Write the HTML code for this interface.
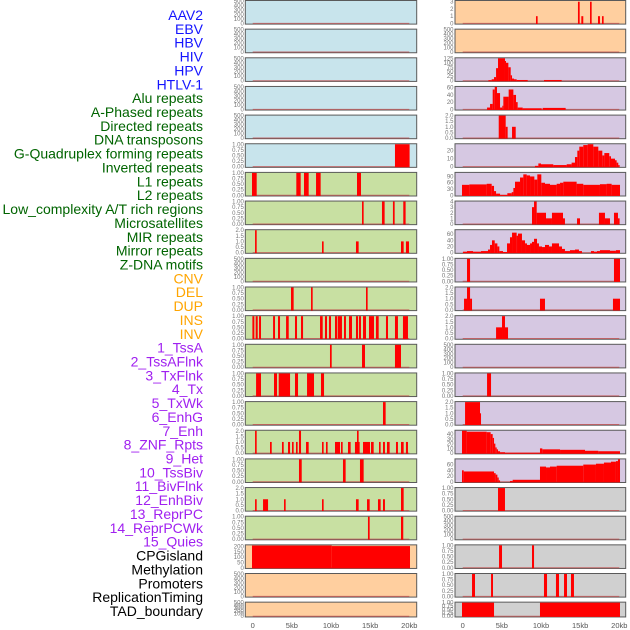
<!DOCTYPE html>
<html><head><meta charset="utf-8">
<style>
html,body{margin:0;padding:0;background:#fff;}
svg{display:block;font-family:"Liberation Sans",sans-serif;}
</style></head>
<body>
<svg id="chart" width="630" height="630" viewBox="0 0 630 630" xmlns="http://www.w3.org/2000/svg"></svg>
<script>
// ---- data ----
const trackLabels = ["AAV2","EBV","HBV","HIV","HPV","HTLV-1","Alu repeats","A-Phased repeats","Directed repeats","DNA transposons","G-Quadruplex forming repeats","Inverted repeats","L1 repeats","L2 repeats","Low_complexity A/T rich regions","Microsatellites","MIR repeats","Mirror repeats","Z-DNA motifs","CNV","DEL","DUP","INS","INV","1_TssA","2_TssAFlnk","3_TxFlnk","4_Tx","5_TxWk","6_EnhG","7_Enh","8_ZNF_Rpts","9_Het","10_TssBiv","11_BivFlnk","12_EnhBiv","13_ReprPC","14_ReprPCWk","15_Quies","CPGisland","Methylation","Promoters","ReplicationTiming","TAD_boundary"];
const labelGroups = ["v","v","v","v","v","v","r","r","r","r","r","r","r","r","r","r","r","r","r","s","s","s","s","s","c","c","c","c","c","c","c","c","c","c","c","c","c","c","c","o","o","o","o","o"];
const xTicks = [0,5,10,15,20];
const xTickLabels = ["0","5kb","10kb","15kb","20kb"];
const T500=["500","400","300","200","100","0"], T1=["1.00","0.75","0.50","0.25","0.00"], T2=["2.0","1.5","1.0","0.5","0.0"];
const leftTicks = [T500,T500,T500,T500,T500,T1,T1,T1,T2,T500,T1,T1,T1,T1,T1,T2,T1,T2,T1,["200","150","100","50","0"],T500,T500];
const rightTicks = [["3","2","1","0"],T500,["125","100","75","50","25","0"],["60","40","20","0"],T2,["20","10","0"],["90","60","30","0"],["4","3","2","1","0"],["60","40","20","0"],T1,T2,T2,T500,T1,T2,["40","30","20","10","0"],["60","40","20","0"],T1,T500,T1,T1,T1];
const leftMax = [500,500,500,500,500,1,1,1,2,500,1,1,1,1,1,2,1,2,1,212,500,500];
const rightMax = [3.1,500,125,62,2,28,107,4,73,1,2,2,500,1,2,47,78,1,500,1,1,1];
const leftSegs = [[],[],[],[],[],
[[18.17,20.04,1]],
[[-0.09,0.51,1],[5.57,6.13,1],[6.55,7.15,1],[8.09,8.68,1],[13.32,13.83,1]],
[[13.96,14.17,1],[16.51,16.85,1],[17.91,18.13,1],[19.23,19.53,1]],
[[0.30,0.51,2],[8.85,9.06,1],[13.19,13.53,1],[18.94,19.28,1],[19.57,19.96,1]],
[],
[[4.89,5.23,1],[7.45,7.66,1],[14.47,14.68,1]],
[[-0.04,0.21,1],[0.38,0.64,1],[0.81,1.06,1],[2.60,2.85,1],[3.23,3.49,1],[4.26,4.60,1],[5.40,5.66,1],[6.17,6.43,1],[8.60,8.94,1],[9.23,9.49,1],[9.74,10.0,1],[10.51,10.81,1],[10.89,11.40,1],[11.66,11.91,1],[12.30,12.68,1],[13.19,13.45,1],[13.57,13.83,1],[14.09,14.47,1],[14.85,15.49,1],[15.74,16.09,1],[17.02,17.28,1],[18.17,18.55,1],[19.19,19.83,1]],
[[9.87,10.09,1],[13.96,14.34,1],[18.17,18.94,1]],
[[0.43,1.06,1],[2.72,3.11,1],[3.32,4.77,1],[5.40,5.79,1],[6.94,7.83,1],[8.72,9.11,1]],
[[16.64,16.98,1]],
[[0.30,0.51,2],[5.91,6.17,2],[13.32,13.53,2],[2.21,2.43,1],[3.74,3.96,1],[4.51,4.77,1],[5.02,5.23,1],[5.53,5.74,1],[6.81,7.15,1],[8.85,9.06,1],[9.36,9.57,1],[10.51,11.15,1],[11.28,11.49,1],[12.17,12.51,1],[13.06,13.66,1],[14.09,14.98,1],[15.11,15.45,1],[16.13,16.34,1],[16.64,16.89,1],[17.15,17.49,1],[18.30,18.55,1],[18.94,19.28,1],[19.57,19.83,1]],
[[5.91,6.26,1],[11.53,11.87,1],[13.70,14.17,1]],
[[0.30,0.51,1],[1.32,1.96,1],[4.00,4.21,1],[8.85,9.06,1],[13.19,13.53,1],[14.60,14.94,1],[16.0,16.34,1],[16.64,16.89,1],[18.94,19.28,2]],
[[14.72,14.94,1],[18.94,19.23,1]],
[[-0.09,10.09,210],[10.09,20.09,205]],
[],[]];
const rightSegs = [
[[9.36,9.57,1],[14.72,14.94,3],[15.15,15.40,1],[16.26,16.47,3],[17.28,17.53,1],[17.79,18.0,1]],
[],
[[3.28,3.70,3],[3.70,4.0,8],[4.0,4.26,20],[4.26,4.51,70],[4.51,5.40,125],[5.40,5.53,110],[5.53,5.83,100],[5.83,6.13,75],[6.13,6.30,30],[6.30,6.55,12],[6.55,6.89,8],[6.89,8.30,4],[10.38,12.64,4]],
[[3.11,3.49,5],[3.49,3.83,15],[3.83,4.09,55],[4.09,4.38,62],[4.38,4.77,45],[4.77,5.06,5],[5.06,5.19,10],[5.19,5.40,35],[5.40,5.87,35],[5.87,6.47,55],[6.47,6.81,40],[6.81,7.02,20],[7.02,7.66,5],[7.66,10.09,3],[10.21,13.15,4]],
[[4.60,5.49,2],[5.49,5.74,1],[6.30,6.77,1]],
[[9.23,9.66,1],[9.66,10.0,4],[10.0,11.57,3],[11.57,13.28,2],[13.28,13.91,3],[13.91,14.34,5],[14.34,14.64,12],[14.64,14.89,20],[14.89,15.40,25],[15.40,15.96,27],[15.96,16.68,28],[16.68,17.32,25],[17.32,17.83,20],[17.83,18.09,14],[18.09,18.72,17],[18.72,18.94,13],[18.94,19.45,10],[19.45,19.66,8],[19.66,19.87,5],[19.87,20.04,2]],
[[-0.09,0.85,50],[0.85,3.06,52],[3.06,3.70,55],[3.70,4.0,45],[4.0,4.26,20],[4.26,4.77,8],[4.77,5.70,2],[5.70,6.26,10],[6.26,6.47,15],[6.47,6.68,35],[6.68,7.32,65],[7.32,7.74,85],[7.74,8.17,100],[8.17,8.60,95],[8.60,9.15,90],[9.15,9.53,75],[9.53,10.04,100],[10.04,10.51,60],[10.51,11.15,55],[11.15,12.0,50],[12.0,12.43,55],[12.43,12.85,60],[12.85,14.55,65],[14.55,15.40,55],[15.40,17.53,50],[17.53,18.38,53],[18.38,19.02,55],[19.02,20.09,50]],
[[8.85,9.11,3],[9.11,9.45,4],[9.45,10.64,2],[10.64,11.40,1],[11.40,12.81,2],[12.81,13.06,1],[14.60,14.98,1],[17.40,18.17,2],[18.17,18.81,1],[19.32,19.83,2],[19.83,20.04,1]],
[[0.04,0.55,3],[0.55,1.32,5],[1.32,2.34,3],[2.34,3.23,5],[3.23,3.49,10],[3.49,3.74,25],[3.74,4.09,40],[4.09,4.43,30],[4.43,4.68,20],[4.68,5.15,5],[5.15,5.66,2],[5.66,6.04,30],[6.04,6.30,50],[6.30,6.89,65],[6.89,7.06,55],[7.06,7.57,62],[7.57,7.96,40],[7.96,8.21,30],[8.21,8.60,25],[8.60,8.85,30],[8.85,9.11,35],[9.11,9.49,45],[9.49,9.74,30],[9.74,10.13,20],[10.13,10.51,18],[10.51,11.02,25],[11.02,11.40,20],[11.40,12.30,30],[12.30,12.68,20],[12.68,13.06,12],[13.06,13.70,5],[13.70,14.34,8],[14.34,14.85,10],[14.85,15.23,5],[16.38,16.77,5],[16.77,17.15,3],[17.15,17.53,5],[17.53,18.81,8],[18.81,19.57,6],[19.57,20.09,8]],
[[0.55,0.94,1],[19.32,20.09,1]],
[[0.17,0.55,1],[0.55,0.94,2],[0.94,1.19,1],[9.87,10.51,1],[19.19,20.09,1]],
[[4.26,5.02,1],[5.02,5.40,2],[5.40,5.79,1]],
[],
[[3.11,3.62,1]],
[[0.30,2.21,2],[2.21,2.34,1]],
[[-0.09,0.51,47],[0.51,3.06,45],[3.06,3.57,44],[3.57,3.83,40],[3.83,4.0,32],[4.0,4.17,20],[4.17,4.34,12],[4.34,4.51,8],[4.51,4.77,4],[4.77,5.40,2],[5.40,9.87,1],[9.87,10.17,10],[10.17,12.43,8],[12.43,15.62,7],[15.62,17.32,5],[17.32,20.09,4]],
[[-0.09,0.13,40],[0.13,4.0,36],[4.0,4.21,30],[4.21,4.43,25],[4.43,4.60,15],[4.60,4.77,5],[6.04,6.38,3],[6.38,9.87,7],[9.87,10.64,53],[10.64,11.15,50],[11.15,12.0,53],[12.0,15.40,56],[15.40,17.02,60],[17.02,18.04,63],[18.04,18.94,67],[18.94,19.57,70],[19.57,19.83,72],[19.83,20.09,78]],
[[4.51,5.40,1]],
[],
[[4.64,5.02,1],[8.85,9.11,1]],
[[1.19,1.57,1],[3.62,3.87,1],[10.38,10.77,1],[11.91,12.30,1],[12.94,13.32,1],[13.83,14.21,1]],
[[-0.09,4.0,1],[9.87,20.09,1]]];

// ---- styles ----
const BG = {b:"#c8e4ec",g:"#c8e0a2",p:"#ffcf9f",l:"#d6c8e2",y:"#d0d0d0"};
const leftBg = [];
for(let i=0;i<22;i++) leftBg.push(i<6?"b":(i<19?"g":"p"));
const rightBg = [];
for(let i=0;i<22;i++) rightBg.push(i<2?"p":(i<17?"l":"y"));
const groupColor = {v:"#1414ff",r:"#006400",s:"#ffa500",c:"#a020f0",o:"#000000"};

const NS="http://www.w3.org/2000/svg";
const svg=document.getElementById("chart");
function mk(tag,attrs,parent){const e=document.createElementNS(NS,tag);for(const k in attrs)e.setAttribute(k,attrs[k]);(parent||svg).appendChild(e);return e;}

trackLabels.forEach((t,i)=>{
  const e=mk("text",{x:203,y:(15+i*13.86+5).toFixed(1),"text-anchor":"end","font-size":"14",fill:groupColor[labelGroups[i]]});
  e.textContent=t;
  
  
});

const cols=[{x0:245.3,w:171.4,z:252.7,ticks:leftTicks,max:leftMax,segs:leftSegs,bg:leftBg,name:'left'},
            {x0:455,w:170.7,z:462.7,ticks:rightTicks,max:rightMax,segs:rightSegs,bg:rightBg,name:'right'}];
const kbScale=7.83;
cols.forEach(c=>{
  const xs=kb=>c.z+kb*kbScale;
  for(let r=0;r<22;r++){
    const top=r*28.65, h=(r===21)?15.8:24.6;
    const g=mk("g",{});
    
    
    const yTop=top+1, yBase=top+h-1.2, m=c.max[r];
    const ys=v=>yBase-(v/m)*(yBase-yTop);
    mk("rect",{x:c.x0,y:top+0.5,width:c.w,height:h-1,fill:BG[c.bg[r]],stroke:"#5a5a5a","stroke-width":1},g);
    const tk=c.ticks[r];
    tk.forEach(lbl=>{
      const v=parseFloat(lbl);
      const t=mk("text",{x:c.x0-1.5,y:(ys(v)+2).toFixed(1),"text-anchor":"end","font-size":"6",fill:"#777"},g);
      t.textContent=lbl;
      
      
    });
    mk("line",{x1:xs(0),x2:xs(20),y1:yBase,y2:yBase,stroke:"#c05050","stroke-width":1,opacity:0.8},g);
    c.segs[r].forEach(s=>{
      const y=ys(Math.min(s[2],m));
      const b=mk("rect",{x:xs(s[0]).toFixed(2),y:y.toFixed(2),width:Math.max(0.8,xs(s[1])-xs(s[0])).toFixed(2),height:(yBase-y+0.6).toFixed(2),fill:"#ff0000"},g);
      
      
    });
  }
  xTicks.forEach((v,i)=>{
    const t=mk("text",{x:xs(v),y:628,"text-anchor":"middle","font-size":"7.5",fill:"#555"});
    t.textContent=xTickLabels[i];
    
    
  });
});
</script>
</body></html>
